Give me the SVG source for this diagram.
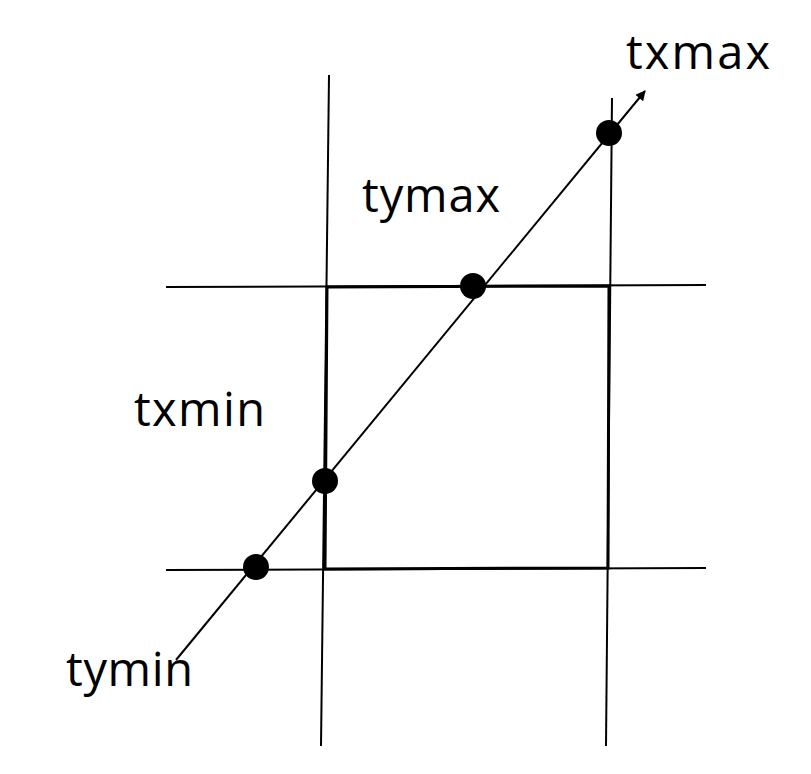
<svg xmlns="http://www.w3.org/2000/svg" width="811" height="774" viewBox="0 0 811 774">
<style>
.ln{stroke:#000;stroke-width:2;fill:none}
.sq{stroke:#000;stroke-width:3;fill:none}
.dot{fill:#000}
.lbl{font-family:"Comic Sans MS","Open Sans","DejaVu Sans",sans-serif;font-size:47px;fill:#000}
</style>
<defs>
<marker id="ah" viewBox="0 0 10 10" refX="9" refY="5" markerWidth="12" markerHeight="10" markerUnits="userSpaceOnUse" orient="auto">
<path d="M0,0 L10,5 L0,10 z" fill="#000"/>
</marker>
</defs>
<rect width="811" height="774" fill="#fff"/>
<g id="connectors">
<line class="ln" x1="329" y1="75" x2="321" y2="746"/>
<line class="ln" x1="612" y1="98" x2="606" y2="746"/>
<line class="ln" x1="166" y1="287" x2="706" y2="285"/>
<line class="ln" x1="166" y1="570" x2="706" y2="568"/>
<polygon class="sq" points="327,287 609,286 608,568 325,569"/>
<line class="ln" x1="176" y1="660" x2="645" y2="91" marker-end="url(#ah)"/>
</g>
<g id="p-tymin"><circle class="dot" cx="256" cy="567" r="13"/></g>
<g id="p-txmin"><circle class="dot" cx="325" cy="481" r="13"/></g>
<g id="p-tymax"><circle class="dot" cx="473" cy="286" r="13"/></g>
<g id="p-txmax"><circle class="dot" cx="609" cy="133" r="13"/></g>
<g id="labels">
<text class="lbl" x="626" y="69" textLength="144" lengthAdjust="spacing">txmax</text>
<text class="lbl" x="362" y="212" textLength="138" lengthAdjust="spacing">tymax</text>
<text class="lbl" x="134" y="426" textLength="131" lengthAdjust="spacing">txmin</text>
<text class="lbl" x="66" y="686" textLength="127" lengthAdjust="spacing">tymin</text>
</g>
</svg>
